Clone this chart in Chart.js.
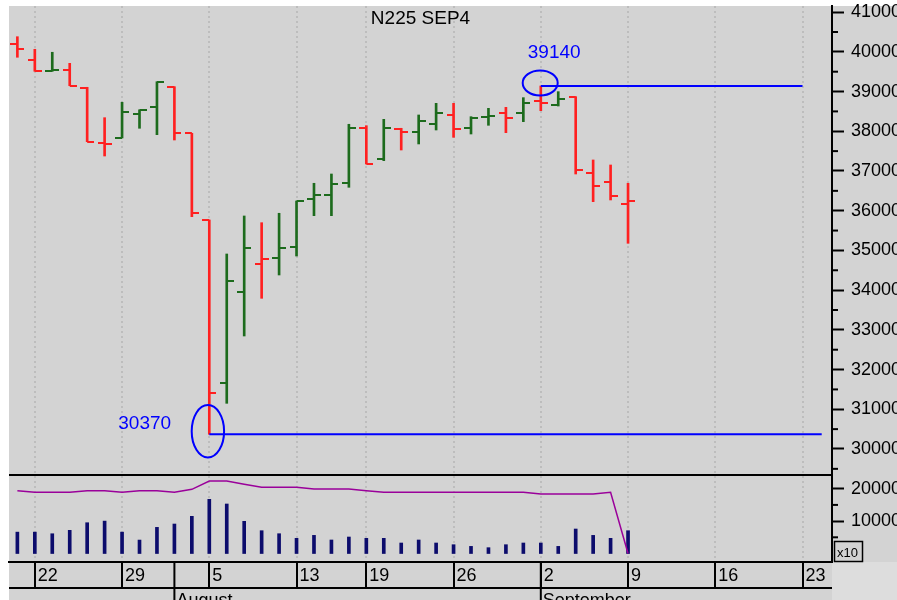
<!DOCTYPE html>
<html>
<head>
<meta charset="utf-8">
<title>N225 SEP4</title>
<script src="https://cdn.jsdelivr.net/npm/chart.js@4.4.1/dist/chart.umd.min.js"></script>
<style>
  html, body { margin: 0; padding: 0; background: #fff; }
</style>
</head>
<body>
<canvas id="n225Chart" width="897" height="600"></canvas>
<script>
'use strict';

// trading days, index 0 = Jul 19
const dates = ['07-19', '07-22', '07-23', '07-24', '07-25', '07-26', '07-29', '07-30', '07-31', '08-01',
               '08-02', '08-05', '08-06', '08-07', '08-08', '08-09', '08-13', '08-14', '08-15', '08-16',
               '08-19', '08-20', '08-21', '08-22', '08-23', '08-26', '08-27', '08-28', '08-29', '08-30',
               '09-02', '09-03', '09-04', '09-05', '09-06', '09-09'];
const openPx  = [40190, 39787, 39510, 39550, 39082, 37697, 37831, 38443, 38603, 39122,
                 37949, 35766, 31669, 33961, 34666, 34817, 35094, 36287, 36403, 36690,
                 38090, 37302, 38065, 37974, 38175, 38410, 38082, 38367, 38469, 38452,
                 38760, 38662, 38871, 36957, 36715, 36169];
const highPx  = [40381, 40064, 39989, 39711, 39107, 38342, 38730, 38540, 39248, 39122,
                 37949, 35766, 34910, 35867, 35698, 35935, 36244, 36690, 36924, 38176,
                 38140, 38301, 38075, 38410, 38704, 38704, 38367, 38578, 38603, 38846,
                 39140, 38997, 38871, 37277, 37151, 36690];
const lowPx   = [39863, 39510, 39510, 39148, 37738, 37377, 37831, 38075, 37914, 37780,
                 35849, 30370, 31150, 32845, 33794, 34381, 34859, 35874, 35874, 36589,
                 37176, 37259, 37528, 37680, 38032, 37848, 37931, 38150, 37964, 38242,
                 38518, 38636, 36924, 36227, 36270, 35179];
const closePx = [40064, 39510, 39550, 39148, 37738, 37690, 38485, 38528, 39248, 37964,
                 35935, 31402, 34237, 35053, 34784, 35053, 36244, 36403, 36680, 38090,
                 37176, 38090, 37974, 38259, 38452, 38049, 38342, 38375, 38340, 38720,
                 38700, 38813, 37025, 36631, 36370, 36244];
const volume  = [6600, 6600, 6100, 7150, 9500, 10000, 6600, 4150, 8070, 9100,
                 11480, 16720, 15280, 9930, 7040, 6110, 4680, 5600, 4170, 5090,
                 4680, 4680, 3240, 4170, 3240, 2720, 2200, 1800, 2720, 3240,
                 3240, 2200, 7560, 5600, 4680, 7040];
const openInt = [19380, 18890, 18890, 18890, 19380, 19380, 18890, 19380, 19380, 18890,
                 19800, 22370, 22370, 21350, 20430, 20430, 20430, 19900, 19900, 19900,
                 19380, 18890, 18890, 18890, 18890, 18890, 18890, 18890, 18890, 18890,
                 18360, 18360, 18360, 18360, 18890, 0];

const weekTicks = [1, 6, 11, 16, 20, 25, 30, 35, 40, 45];
const weekLabels = ['22', '29', '5', '13', '19', '26', '2', '9', '16', '23'];
const monthStarts = [9, 30];
const monthNames = ['August', 'September'];
const priceTicks = [30000, 31000, 32000, 33000, 34000, 35000, 36000, 37000, 38000, 39000, 40000, 41000];
const volTicks = [10000, 20000];

// marked high / low with horizontal lines
const markValues = [39140, 30370];
const markFrom = [30, 11];
const markTo = [45, 46.1];

const RED = '#ff2020';
const GREEN = '#1d6b1d';
const BLUE = '#0000ff';

Chart.defaults.font.family = "'Liberation Sans', Arial, sans-serif";
Chart.defaults.color = '#000';

const up = closePx.map((c, i) => i > 0 ? c >= closePx[i - 1] : c >= openPx[i]);

function tickImage(color, side) {
    const c = document.createElement('canvas');
    c.width = 14;
    c.height = 2;
    const g = c.getContext('2d');
    g.fillStyle = color;
    g.fillRect(side === 'left' ? 0 : 7, 0, 7, 2);
    return c;
}
const openRed = tickImage(RED, 'left');
const openGreen = tickImage(GREEN, 'left');
const closeRed = tickImage(RED, 'right');
const closeGreen = tickImage(GREEN, 'right');

function line(ctx, x1, y1, x2, y2) {
    ctx.beginPath();
    ctx.moveTo(x1, y1);
    ctx.lineTo(x2, y2);
    ctx.stroke();
}

function noPadding(s) {
    s.paddingTop = 0;
    s.paddingBottom = 0;
    s.paddingLeft = 0;
    s.paddingRight = 0;
}

const decorations = {
    id: 'decorations',
    beforeDraw(chart) {
        const {ctx, width, height, chartArea: a} = chart;
        ctx.save();
        ctx.fillStyle = '#fff';
        ctx.fillRect(0, 0, width, height);
        ctx.fillStyle = '#d3d3d3';
        ctx.fillRect(a.left, a.top, width - a.left, height - a.top);
        ctx.fillStyle = '#dddddd';
        ctx.fillRect(a.right, a.bottom, width - a.right, height - a.bottom);
        ctx.restore();
    },
    afterDraw(chart) {
        const {ctx, chartArea: a, scales: {x, y, yv}} = chart;
        ctx.save();
        ctx.strokeStyle = '#000';
        ctx.lineWidth = 2;

        // pane divider and date row
        line(ctx, a.left, y.bottom, a.right, y.bottom);
        line(ctx, a.left, a.bottom + 26, a.right, a.bottom + 26);

        // months
        ctx.fillStyle = '#000';
        ctx.font = "18px 'Liberation Sans', Arial, sans-serif";
        ctx.textBaseline = 'top';
        ctx.textAlign = 'left';
        monthStarts.forEach((d, i) => {
            const px = x.getPixelForValue(d);
            line(ctx, px, a.bottom, px, chart.height);
            ctx.fillText(monthNames[i], px + 2, a.bottom + 30);
        });

        // minor ticks
        priceTicks.forEach(v => {
            const py = y.getPixelForValue(v - 500);
            line(ctx, y.left, py, y.left + 6, py);
        });
        volTicks.forEach(v => {
            const py = yv.getPixelForValue(v - 5000);
            line(ctx, yv.left, py, yv.left + 6, py);
        });

        // x10 box
        ctx.lineWidth = 1.5;
        ctx.strokeRect(a.right + 2.5, a.bottom - 20.5, 28, 20);
        ctx.font = "13px 'Liberation Sans', Arial, sans-serif";
        ctx.textBaseline = 'alphabetic';
        ctx.fillText('x10', a.right + 5, a.bottom - 5);

        // title
        ctx.font = "19px 'Liberation Sans', Arial, sans-serif";
        ctx.textAlign = 'center';
        ctx.fillText('N225 SEP4', (a.left + a.right) / 2, 24);

        // marks
        ctx.strokeStyle = BLUE;
        ctx.fillStyle = BLUE;
        ctx.lineWidth = 2;
        const hx = x.getPixelForValue(markFrom[0]);
        const hy = y.getPixelForValue(markValues[0]);
        ctx.beginPath();
        ctx.ellipse(hx - 0.6, hy - 3, 17.5, 12.5, 0, 0, Math.PI * 2);
        ctx.stroke();
        ctx.textAlign = 'left';
        ctx.fillText(String(markValues[0]), hx - 13, hy - 28);

        const lx = x.getPixelForValue(markFrom[1]);
        const ly = y.getPixelForValue(markValues[1]);
        ctx.beginPath();
        ctx.ellipse(lx - 1.4, ly - 3, 16.2, 26.2, 0, 0, Math.PI * 2);
        ctx.stroke();
        ctx.fillText(String(markValues[1]), lx - 91, ly - 5);
        ctx.restore();
    }
};

new Chart(document.getElementById('n225Chart'), {
    type: 'line',
    data: {
        datasets: [
            {
                type: 'line', yAxisID: 'y',
                data: [{x: markFrom[0], y: markValues[0]}, {x: markTo[0], y: markValues[0]}],
                borderColor: BLUE, borderWidth: 2, pointRadius: 0
            },
            {
                type: 'line', yAxisID: 'y',
                data: [{x: markFrom[1], y: markValues[1]}, {x: markTo[1], y: markValues[1]}],
                borderColor: BLUE, borderWidth: 2, pointRadius: 0
            },
            {
                type: 'line', yAxisID: 'y', showLine: false,
                data: dates.map((d, i) => ({x: i, y: openPx[i]})),
                pointRadius: 3,
                pointStyle: c => up[c.dataIndex] ? openGreen : openRed
            },
            {
                type: 'line', yAxisID: 'y', showLine: false,
                data: dates.map((d, i) => ({x: i, y: closePx[i]})),
                pointRadius: 3,
                pointStyle: c => up[c.dataIndex] ? closeGreen : closeRed
            },
            {
                type: 'bar', yAxisID: 'y', grouped: false,
                data: dates.map((d, i) => ({x: i, y: [lowPx[i], highPx[i]]})),
                backgroundColor: up.map(u => u ? GREEN : RED),
                barThickness: 2
            },
            {
                type: 'line', yAxisID: 'yv',
                data: dates.map((d, i) => ({x: i, y: openInt[i]})),
                borderColor: '#9a009a', borderWidth: 1.5, pointRadius: 0
            },
            {
                type: 'bar', yAxisID: 'yv', grouped: false,
                data: dates.map((d, i) => ({x: i, y: volume[i]})),
                backgroundColor: '#0c0c6c',
                barThickness: 3
            }
        ]
    },
    options: {
        responsive: false,
        animation: false,
        events: [],
        layout: { padding: { left: 9, top: 6, right: 0, bottom: 0 } },
        plugins: {
            legend: { display: false },
            tooltip: { enabled: false }
        },
        scales: {
            x: {
                type: 'linear',
                min: -0.48,
                max: 46.69,
                offset: false,
                afterBuildTicks: s => { s.ticks = weekTicks.map(v => ({value: v})); },
                afterFit: s => { s.height = 38; noPadding(s); },
                ticks: {
                    autoSkip: false,
                    maxRotation: 0,
                    align: 'start',
                    labelOffset: 3,
                    padding: -23,
                    font: { size: 18 },
                    callback: (v, i) => weekLabels[i]
                },
                grid: {
                    offset: false,
                    color: '#bdbdbd',
                    lineWidth: 2,
                    tickLength: 26,
                    tickColor: '#000',
                    tickWidth: 2,
                    tickBorderDash: []
                },
                border: { display: true, color: '#000', width: 2, dash: [2, 3] }
            },
            y: {
                position: 'right',
                stack: 'panes',
                stackWeight: 469,
                min: 29345,
                max: 41154,
                afterBuildTicks: s => { s.ticks = priceTicks.map(v => ({value: v})); },
                afterFit: s => { s.width = 65; noPadding(s); },
                ticks: { autoSkip: false, padding: 7, font: { size: 18 }, callback: v => String(v) },
                grid: { drawOnChartArea: false, tickLength: 12, tickWidth: 2, tickColor: '#000' },
                border: { color: '#000', width: 2 }
            },
            yv: {
                position: 'right',
                stack: 'panes',
                stackWeight: 87,
                min: -2620,
                max: 24230,
                afterBuildTicks: s => { s.ticks = volTicks.map(v => ({value: v})); },
                afterFit: s => { s.width = 65; noPadding(s); },
                ticks: { autoSkip: false, padding: 7, font: { size: 18 }, callback: v => String(v) },
                grid: { drawOnChartArea: false, tickLength: 12, tickWidth: 2, tickColor: '#000' },
                border: { color: '#000', width: 2 }
            }
        }
    },
    plugins: [decorations]
});
</script>
</body>
</html>
